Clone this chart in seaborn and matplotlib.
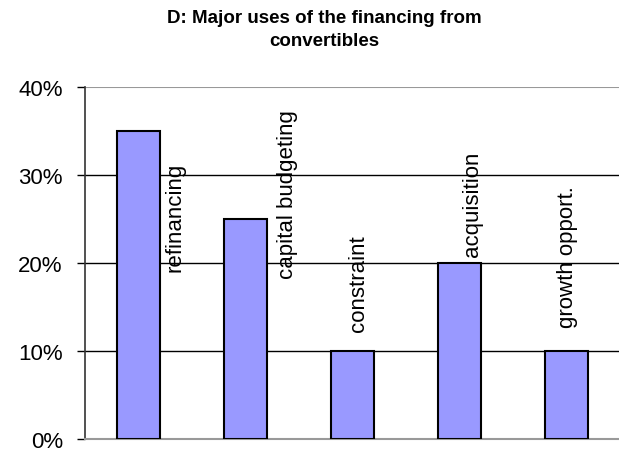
import matplotlib
matplotlib.use("Agg")
import matplotlib.pyplot as plt
import pandas as pd
import seaborn as sns
from matplotlib.ticker import PercentFormatter

uses = ["refinancing", "capital budgeting", "constraint", "acquisition", "growth opport."]
shares = [35, 25, 10, 20, 10]

# where the rotated category labels sit (category offset, bottom of text in %)
label_dx = [0.34, 0.39, 0.06, 0.12, 0.01]
label_y = [19.1, 18.3, 12.3, 20.8, 12.7]

df = pd.DataFrame({"use": uses, "share": shares})

sns.set_theme(style="white")
plt.rcParams["font.family"] = ["Liberation Sans", "DejaVu Sans"]
plt.rcParams["text.color"] = "black"
plt.rcParams["ytick.color"] = "black"
plt.rcParams["ytick.labelcolor"] = "black"

fig = plt.figure(figsize=(6.19, 4.52), dpi=100)
ax = fig.add_axes([85 / 619, 1 - 440 / 452, 535 / 619, 352 / 452])

sns.barplot(
    data=df,
    x="use",
    y="share",
    color="#9999FF",
    saturation=1,
    width=0.41,
    edgecolor="black",
    linewidth=1.5,
    ax=ax,
    zorder=3,
)

ax.set_ylim(0, 40)
ax.set_xlim(-0.5, len(uses) - 0.5)
ax.set_yticks([0, 10, 20, 30, 40])
ax.yaxis.set_major_formatter(PercentFormatter(decimals=0))
for v in [10, 20, 30]:
    ax.axhline(v, color="black", linewidth=1, zorder=1)
ax.axhline(40, color="#999999", linewidth=1.5, zorder=1)

ax.set_xticks([])
ax.set_xlabel("")
ax.set_ylabel("")
ax.tick_params(axis="y", direction="out", length=6, width=1, color="black",
               labelcolor="black", pad=10, labelsize=16, left=True)
for side in ["top", "right"]:
    ax.spines[side].set_visible(False)
ax.spines["left"].set_color("#333333")
ax.spines["left"].set_linewidth(1.2)
ax.spines["bottom"].set_color("#999999")
ax.spines["bottom"].set_linewidth(1.5)

for i, name in enumerate(uses):
    ax.text(i + label_dx[i], label_y[i], name, rotation=90, ha="center",
            va="bottom", fontsize=16, color="black", zorder=4)

fig.text(0.524, 0.978, "D: Major uses of the financing from\nconvertibles",
         ha="center", va="top", fontsize=13.5, fontweight="bold",
         color="black", linespacing=1.45)

fig.savefig("out.png", dpi=100)
